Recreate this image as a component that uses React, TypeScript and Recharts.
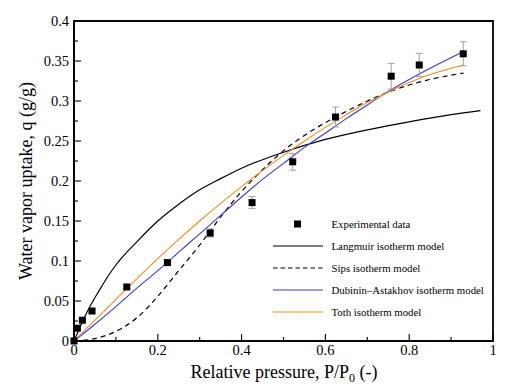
import React from "react";
import {
  ComposedChart,
  Line,
  Scatter,
  ErrorBar,
  XAxis,
  YAxis,
  ReferenceArea,
} from "recharts";

// experimental points (relative pressure, uptake, error)
const expX = [0, 0.008, 0.02, 0.043, 0.126, 0.223, 0.325, 0.425, 0.522, 0.624, 0.757, 0.824, 0.929];
const expQ = [0, 0.016, 0.026, 0.0375, 0.0675, 0.098, 0.135, 0.173, 0.224, 0.28, 0.331, 0.345, 0.359];
const expErr = [0, 0.001, 0.001, 0.0015, 0.002, 0.003, 0.005, 0.0075, 0.0105, 0.0125, 0.016, 0.0145, 0.015];

// model curves
const langX = [0, 0.01, 0.02, 0.04, 0.06, 0.08, 0.1, 0.15, 0.2, 0.25, 0.3, 0.35, 0.4, 0.5, 0.6, 0.7, 0.8, 0.9, 0.97];
const langQ = [0, 0.012, 0.024, 0.045, 0.063, 0.08, 0.095, 0.124, 0.15, 0.171, 0.189, 0.203, 0.216, 0.236, 0.252, 0.264, 0.274, 0.283, 0.288];

const fitX = [0, 0.05, 0.1, 0.15, 0.2, 0.25, 0.3, 0.35, 0.4, 0.45, 0.5, 0.55, 0.6, 0.65, 0.7, 0.75, 0.8, 0.85, 0.93];
const sipsQ = [0, 0.003, 0.012, 0.029, 0.056, 0.088, 0.12, 0.155, 0.187, 0.214, 0.238, 0.257, 0.273, 0.287, 0.3, 0.311, 0.32, 0.327, 0.335];
const daQ = [0, 0.021, 0.043, 0.066, 0.088, 0.111, 0.134, 0.157, 0.18, 0.202, 0.222, 0.242, 0.26, 0.278, 0.295, 0.312, 0.327, 0.341, 0.362];
const tothQ = [0, 0.026, 0.052, 0.078, 0.103, 0.127, 0.15, 0.172, 0.193, 0.213, 0.232, 0.25, 0.267, 0.283, 0.298, 0.311, 0.323, 0.333, 0.345];

const xTicks = [0, 0.1, 0.2, 0.3, 0.4, 0.5, 0.6, 0.7, 0.8, 0.9, 1];
const yTicks = [0, 0.025, 0.05, 0.075, 0.1, 0.125, 0.15, 0.175, 0.2, 0.225, 0.25, 0.275, 0.3, 0.325, 0.35, 0.375, 0.4];

const legendLabels = [
  "Experimental data",
  "Langmuir isotherm model",
  "Sips isotherm model",
  "Dubinin\u2013Astakhov isotherm model",
  "Toth isotherm model",
];

const W = 525;
const H = 390;
const M = { top: 21, right: 32, bottom: 48, left: 73 };
const PLOT_LEFT = 74;
const PLOT_BOTTOM = 341;
const FONT = '"Liberation Serif", "Times New Roman", Times, serif';
const BLUE = "#3b3bd6";
const ORANGE = "#f08c1e";

const zip = (xs: number[], ys: number[]) => xs.map((x, i) => ({ x, q: ys[i] }));

const expData = expX.map((x, i) => ({ x, q: expQ[i], err: expErr[i] }));

const isMajor = (v: number, step: number) =>
  Math.abs(v / step - Math.round(v / step)) < 1e-6;

const fmt = (v: number) => String(Number(v.toFixed(3)));

const textStyle = (size: number) => ({ fontFamily: FONT, fontSize: size, fill: "#000" });

const YTick = (props: any) => {
  const { y, payload } = props;
  const v = payload.value;
  const major = isMajor(v, 0.05);
  return (
    <g>
      <line x1={PLOT_LEFT} x2={PLOT_LEFT + (major ? 7 : 4)} y1={y} y2={y} stroke="#000" strokeWidth={1.1} />
      {major && (
        <text x={PLOT_LEFT - 5} y={y} dy={5} textAnchor="end" style={textStyle(14.5)}>
          {fmt(v)}
        </text>
      )}
    </g>
  );
};

const XTick = (props: any) => {
  const { x, payload } = props;
  const v = payload.value;
  const major = isMajor(v, 0.2);
  return (
    <g>
      <line x1={x} x2={x} y1={PLOT_BOTTOM} y2={PLOT_BOTTOM - (major ? 7 : 4)} stroke="#000" strokeWidth={1.1} />
      {major && (
        <text x={x} y={PLOT_BOTTOM + 14} textAnchor="middle" style={textStyle(14.5)}>
          {fmt(v)}
        </text>
      )}
    </g>
  );
};

const Square = (props: any) => {
  const { cx, cy } = props;
  return <rect x={cx - 3.5} y={cy - 3.5} width={7} height={7} fill="#000" />;
};

function Overlay() {
  const lx = 273;
  const rows = [224, 246, 268, 290, 312];
  const samples = [
    null,
    { stroke: "#000", dash: undefined },
    { stroke: "#000", dash: "4.5 3" },
    { stroke: BLUE, dash: undefined },
    { stroke: ORANGE, dash: undefined },
  ];
  return (
    <svg width={W} height={H} style={{ position: "absolute", left: 0, top: 0, pointerEvents: "none" }}>
      {legendLabels.map((label, i) => {
        const y = rows[i];
        const s = samples[i];
        return (
          <g key={label}>
            {s ? (
              <line x1={lx} x2={lx + 50} y1={y} y2={y} stroke={s.stroke} strokeWidth={1.2} strokeDasharray={s.dash} />
            ) : (
              <rect x={lx + 21} y={y - 3.5} width={7} height={7} fill="#000" />
            )}
            <text x={331.5} y={y + 3.6} style={textStyle(10.8)}>
              {label}
            </text>
          </g>
        );
      })}
      <text x={284} y={377.5} textAnchor="middle" style={textStyle(18)}>
        Relative pressure, P/P<tspan style={{ fontSize: 12 }} dy={4}>0</tspan>
        <tspan dy={-4}> (-)</tspan>
      </text>
      <text transform="rotate(-90)" x={-181} y={32} textAnchor="middle" style={textStyle(18)}>
        Water vapor uptake, q (g/g)
      </text>
    </svg>
  );
}

export default function App() {
  return (
    <div style={{ position: "absolute", left: 0, top: 0, width: W, height: H, background: "#fff", fontFamily: FONT }}>
      <ComposedChart width={W} height={H} margin={M}>
        <XAxis
          type="number"
          dataKey="x"
          domain={[0, 1]}
          ticks={xTicks}
          interval={0}
          height={1}
          tickSize={0}
          tickLine={false}
          axisLine={{ stroke: "#000", strokeWidth: 1.8 }}
          tick={<XTick />}
        />
        <YAxis
          type="number"
          dataKey="q"
          domain={[0, 0.4]}
          ticks={yTicks}
          interval={0}
          width={1}
          tickSize={0}
          tickLine={false}
          axisLine={{ stroke: "#000", strokeWidth: 1.8 }}
          tick={<YTick />}
        />
        <ReferenceArea x1={0} x2={1} y1={0} y2={0.4} fill="none" fillOpacity={0} stroke="#000" strokeWidth={1.8} ifOverflow="visible" />
        <Line data={zip(langX, langQ)} dataKey="q" type="monotone" stroke="#000" strokeWidth={1.2} dot={false} activeDot={false} isAnimationActive={false} />
        <Line data={zip(fitX, sipsQ)} dataKey="q" type="monotone" stroke="#000" strokeWidth={1.2} strokeDasharray="5 4" dot={false} activeDot={false} isAnimationActive={false} />
        <Line data={zip(fitX, daQ)} dataKey="q" type="monotone" stroke={BLUE} strokeWidth={1.1} dot={false} activeDot={false} isAnimationActive={false} />
        <Line data={zip(fitX, tothQ)} dataKey="q" type="monotone" stroke={ORANGE} strokeWidth={1.1} dot={false} activeDot={false} isAnimationActive={false} />
        <Scatter data={expData} dataKey="q" shape={<Square />} isAnimationActive={false}>
          <ErrorBar dataKey="err" direction="y" width={3.5} stroke="#a0a0a0" strokeWidth={1} />
        </Scatter>
      </ComposedChart>
      <Overlay />
    </div>
  );
}
